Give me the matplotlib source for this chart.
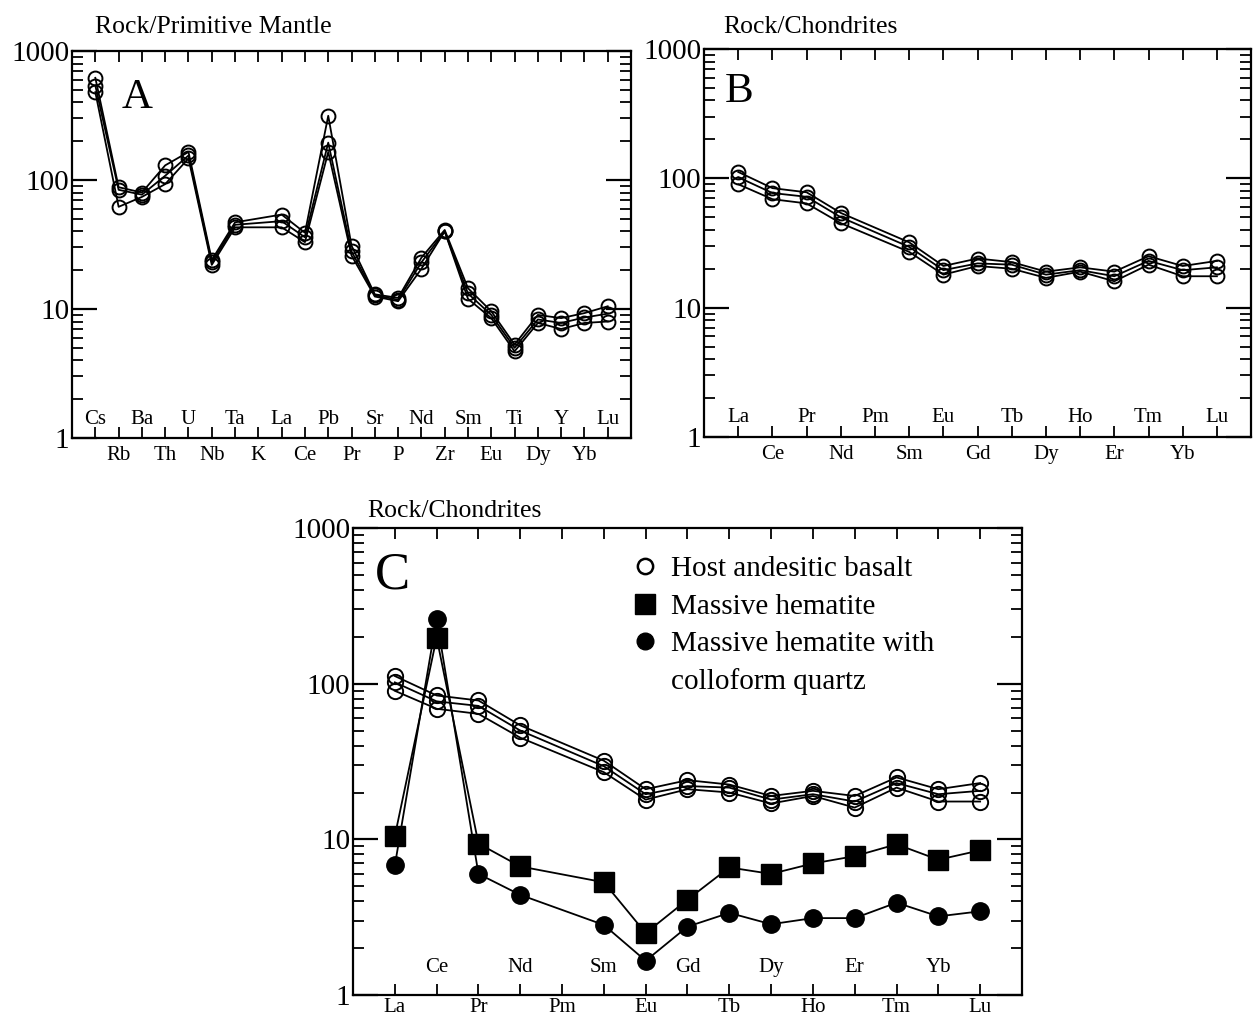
import numpy as np
import matplotlib
matplotlib.use("Agg")
import matplotlib.pyplot as plt
from matplotlib.ticker import LogLocator, NullFormatter
from matplotlib.transforms import blended_transform_factory
from matplotlib.lines import Line2D

plt.rcParams['font.family'] = ['Liberation Serif', 'DejaVu Serif']

# ---------------- data ----------------
spider_elems = ["Cs", "Rb", "Ba", "Th", "U", "Nb", "Ta", "K", "La", "Ce", "Pb", "Pr",
                "Sr", "P", "Nd", "Zr", "Sm", "Eu", "Ti", "Dy", "Y", "Yb", "Lu"]
nan = np.nan
pm_host1 = [620, 88, 80, 130, 165, 24, 47, nan, 54, 39, 315, 31, 13.0, 12.2, 25.0, 41, 14.5, 9.6, 5.3, 9.0, 8.5, 9.3, 10.5]
pm_host2 = [540, 84, 77, 108, 155, 23, 45, nan, 48, 36, 195, 28, 12.8, 11.8, 23.0, 40, 13.2, 9.0, 5.0, 8.3, 7.8, 8.6, 9.2]
pm_host3 = [480, 62, 74, 93, 147, 22, 43, nan, 43, 33, 165, 26, 12.5, 11.5, 20.5, 40, 12.0, 8.5, 4.7, 7.8, 7.0, 7.8, 8.0]

ree_elems = ["La", "Ce", "Pr", "Nd", "Pm", "Sm", "Eu", "Gd", "Tb", "Dy", "Ho", "Er", "Tm", "Yb", "Lu"]
ch_host1 = [112, 84, 78, 54, nan, 32.0, 21.0, 24.0, 22.5, 19.0, 20.5, 19.0, 25.0, 21.0, 23.0]
ch_host2 = [102, 77, 72, 50, nan, 29.5, 19.5, 22.0, 21.5, 18.0, 19.5, 17.5, 23.0, 19.5, 20.5]
ch_host3 = [90, 69, 64, 45, nan, 27.0, 18.0, 21.0, 20.0, 17.0, 19.0, 16.0, 21.5, 17.5, 17.5]
ch_hematite = [10.5, 198, 9.4, 6.7, nan, 5.3, 2.5, 4.1, 6.6, 6.0, 7.0, 7.8, 9.3, 7.4, 8.5]
ch_hem_quartz = [6.8, 262, 6.0, 4.4, nan, 2.82, 1.66, 2.75, 3.37, 2.85, 3.12, 3.12, 3.92, 3.2, 3.45]

legend_labels = ["Host andesitic basalt", "Massive hematite",
                 "Massive hematite with", "colloform quartz"]

# ---------------- helpers ----------------
def style(ax, n, xpad=6):
    ax.set_yscale('log')
    ax.set_ylim(1, 1000)
    ax.set_xlim(-1, n)
    ax.set_yticks([1, 10, 100, 1000])
    ax.set_yticklabels(['1', '10', '100', '1000'])
    ax.yaxis.set_minor_locator(LogLocator(base=10, subs=np.arange(2, 10), numticks=20))
    ax.yaxis.set_minor_formatter(NullFormatter())
    ax.tick_params(axis='y', which='major', direction='in', length=18, width=1.6,
                   left=True, right=True, labelsize=21, pad=2)
    ax.tick_params(axis='y', which='minor', direction='in', length=8, width=1.3,
                   left=True, right=True)
    ax.tick_params(axis='x', which='major', direction='in', length=8, width=1.3,
                   top=True, bottom=True, labelsize=15, pad=xpad)
    for s in ax.spines.values():
        s.set_linewidth(1.6)


def xlabels(ax, elems, inside_parity, y_in):
    n = len(elems)
    ax.set_xticks(np.arange(n))
    ax.set_xticklabels([e if i % 2 != inside_parity else '' for i, e in enumerate(elems)])
    tr = blended_transform_factory(ax.transData, ax.transAxes)
    for i, e in enumerate(elems):
        if i % 2 == inside_parity:
            ax.text(i, y_in, e, transform=tr, ha='center', va='center', fontsize=15)


def series(ax, vals, **kw):
    v = np.asarray(vals, dtype=float)
    x = np.arange(len(v))
    m = np.isfinite(v)
    ax.plot(x[m], v[m], **kw)


fig = plt.figure(figsize=(12.55, 10.17), dpi=100)
axA = fig.add_axes([0.0574, 0.5693, 0.4454, 0.3805])
axB = fig.add_axes([0.561, 0.5703, 0.4359, 0.3815])
axC = fig.add_axes([0.2813, 0.0216, 0.533, 0.4592])

host_kw = dict(color='black', lw=1.3, marker='o', markersize=10,
               markerfacecolor='none', markeredgecolor='black', markeredgewidth=1.4)

# ---- Panel A ----
style(axA, len(spider_elems))
for s in (pm_host1, pm_host2, pm_host3):
    series(axA, s, **host_kw)
xlabels(axA, spider_elems, 0, 0.047)
axA.text(0.089, 0.93, 'A', transform=axA.transAxes, fontsize=31, ha='left', va='top')
axA.text(0.041, 1.062, 'Rock/Primitive Mantle', transform=axA.transAxes, fontsize=18.5,
         ha='left', va='center')

# ---- Panel B ----
style(axB, len(ree_elems))
for s in (ch_host1, ch_host2, ch_host3):
    series(axB, s, **host_kw)
xlabels(axB, ree_elems, 0, 0.049)
axB.text(0.037, 0.94, 'B', transform=axB.transAxes, fontsize=31, ha='left', va='top')
axB.text(0.035, 1.057, 'Rock/Chondrites', transform=axB.transAxes, fontsize=18.5,
         ha='left', va='center')

# ---- Panel C ----
style(axC, len(ree_elems), xpad=2)
host_kw_c = dict(host_kw, markersize=11)
for s in (ch_host1, ch_host2, ch_host3):
    series(axC, s, **host_kw_c)
series(axC, ch_hematite, color='black', lw=1.3, marker='s', markersize=14,
       markerfacecolor='black', markeredgecolor='black')
series(axC, ch_hem_quartz, color='black', lw=1.3, marker='o', markersize=12.5,
       markerfacecolor='black', markeredgecolor='black')
xlabels(axC, ree_elems, 1, 0.058)
axC.text(0.032, 0.95, 'C', transform=axC.transAxes, fontsize=38, ha='left', va='top')
axC.text(0.022, 1.036, 'Rock/Chondrites', transform=axC.transAxes, fontsize=18.5,
         ha='left', va='center')

handles = [
    Line2D([], [], ls='none', marker='o', markersize=11, markerfacecolor='none',
           markeredgecolor='black', markeredgewidth=1.8),
    Line2D([], [], ls='none', marker='s', markersize=14, markerfacecolor='black',
           markeredgecolor='black'),
    Line2D([], [], ls='none', marker='o', markersize=12, markerfacecolor='black',
           markeredgecolor='black'),
    Line2D([], [], ls='none', marker=None),
]
axC.legend(handles, legend_labels, loc='upper left', bbox_to_anchor=(0.38, 0.99),
           frameon=False, fontsize=21, handlelength=1.0, handletextpad=0.4,
           labelspacing=0.38, borderaxespad=0.4)

fig.savefig('out.png', dpi=100)
